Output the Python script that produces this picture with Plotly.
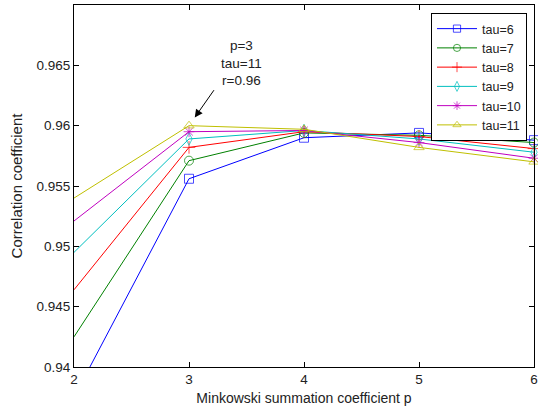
import plotly.graph_objects as go

p_values = [2, 3, 4, 5, 6]
series_names = ["tau=6", "tau=7", "tau=8", "tau=9", "tau=10", "tau=11"]
tau6 = [0.9375, 0.9556, 0.9590, 0.9594, 0.9588]
tau7 = [0.9425, 0.9571, 0.9594, 0.9592, 0.9586]
tau8 = [0.9464, 0.9582, 0.9595, 0.9591, 0.9581]
tau9 = [0.9495, 0.9589, 0.9596, 0.9589, 0.9578]
tau10 = [0.9521, 0.9595, 0.9596, 0.9586, 0.9573]
tau11 = [0.9540, 0.9600, 0.9597, 0.9582, 0.9570]
series_values = [tau6, tau7, tau8, tau9, tau10, tau11]

x_ticks = [2, 3, 4, 5, 6]
y_ticks = [0.94, 0.945, 0.95, 0.955, 0.96, 0.965]
y_tick_labels = ["0.94", "0.945", "0.95", "0.955", "0.96", "0.965"]
x_min, x_max = 2, 6
y_min, y_max = 0.94, 0.97

colors = ["#0000ff", "#008000", "#ff0000", "#00bfbf", "#bf00bf", "#bfbf00"]
symbols = ["square-open", "circle-open", "cross-thin-open", "diamond-tall-open",
           "asterisk-open", "triangle-up-open"]

fig = go.Figure()
for name, vals, c, s in zip(series_names, series_values, colors, symbols):
    # the left-edge values are where the curves enter the axes (no marker there)
    sizes = [9 if (y_min <= v <= y_max and p > x_min) else 0
             for p, v in zip(p_values, vals)]
    fig.add_trace(go.Scatter(
        x=p_values, y=vals, name=name, mode="lines+markers",
        line=dict(color=c, width=1),
        marker=dict(symbol=s, size=sizes, color=c, line=dict(color=c, width=1)),
        cliponaxis=False,
    ))

ff = "Liberation Sans, Arial, sans-serif"
font = dict(family=ff, size=13.5, color="#222222")

fig.add_annotation(x=3, y=0.96, xref="x", yref="y", text="",
                   showarrow=True, ax=26, ay=-37, standoff=10,
                   arrowhead=2, arrowsize=1.6, arrowwidth=1, arrowcolor="black")
fig.add_annotation(x=3, y=0.96, xref="x", yref="y",
                   text="p=3<br>tau=11<br>r=0.96", showarrow=False,
                   xshift=52, yshift=63, font=font, align="center")

axis_common = dict(showline=True, linecolor="black", linewidth=1, mirror="ticks",
                   ticks="inside", ticklen=5, tickcolor="black", showgrid=False,
                   zeroline=False, tickfont=font, automargin=False)

fig.update_layout(
    width=538, height=411,
    margin=dict(l=74, r=4, t=5, b=44),
    paper_bgcolor="white", plot_bgcolor="white",
    font=font,
    xaxis=dict(range=[x_min, x_max], tickvals=x_ticks,
               title=dict(text="Minkowski summation coefficient p",
                          font=dict(family=ff, size=14, color="#222222"), standoff=6),
               **axis_common),
    yaxis=dict(range=[y_min, y_max], tickvals=y_ticks, ticktext=y_tick_labels,
               title=dict(text="Correlation coefficient",
                          font=dict(family=ff, size=15, color="#222222"), standoff=10),
               **axis_common),
    legend=dict(x=(527 - 74) / 460, y=(367 - 13) / 362, xanchor="right", yanchor="top",
                bordercolor="black", borderwidth=1, bgcolor="white",
                font=dict(family=ff, size=12.5, color="#222222"),
                tracegroupgap=0, itemwidth=40),
    showlegend=True,
)

fig.write_html("out.html", config={"displayModeBar": False},
               post_script="document.body.style.margin='0';document.body.style.overflow='hidden';")
